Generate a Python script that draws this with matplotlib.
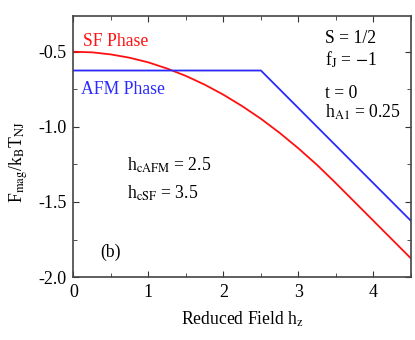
import matplotlib
matplotlib.use("Agg")
import matplotlib.pyplot as plt
from matplotlib.ticker import MultipleLocator

plt.rcParams['font.family'] = ['Liberation Serif', 'DejaVu Serif']
plt.rcParams['mathtext.fontset'] = 'stix'

# reduced field and free energies
h_sf = [0, 0.25, 0.5, 0.75, 1.0, 1.25, 1.5, 1.75, 2.0, 2.25, 2.5,
        2.75, 3.0, 3.25, 3.5, 3.75, 4.0, 4.25, 4.5]
f_sf = [-0.500, -0.504, -0.518, -0.540, -0.571, -0.612, -0.661, -0.719,
        -0.786, -0.862, -0.946, -1.040, -1.143, -1.254, -1.375, -1.500,
        -1.625, -1.750, -1.875]
h_afm = [0, 2.5, 4.5]
f_afm = [-0.625, -0.625, -1.625]

params = ["S = 1/2", "f$_{\\rm J}$ = $-$1", "t = 0", "h$_{\\rm A1}$ = 0.25"]
crit = ["h$_{\\rm cAFM}$ = 2.5", "h$_{\\rm cSF}$ = 3.5"]

fs = 12.7
fig = plt.figure(figsize=(4.15, 3.4), dpi=100)
ax = fig.add_axes([0.177, 0.185, 0.813, 0.768])

ax.plot(h_sf, f_sf, color='#ff1010', lw=1.3)
ax.plot(h_afm, f_afm, color='#2a2aff', lw=1.3)

ax.set_xlim(0, 4.5)
ax.set_ylim(-2.0, -0.262)
ax.xaxis.set_major_locator(MultipleLocator(1))
ax.xaxis.set_minor_locator(MultipleLocator(0.5))
ax.yaxis.set_major_locator(MultipleLocator(0.5))
ax.yaxis.set_minor_locator(MultipleLocator(0.25))
ax.tick_params(which='both', direction='in', top=True, right=True,
               labelsize=13, colors='#333333', labelcolor='black', pad=5)
ax.tick_params(which='major', length=4)
ax.tick_params(which='minor', length=3)
ax.set_yticks([-2.0, -1.5, -1.0, -0.5])
ax.set_yticklabels(['-2.0', '-1.5', '-1.0', '-0.5'])
for s in ax.spines.values():
    s.set_color('#444444')
    s.set_linewidth(1.2)

ax.set_xlabel("Reduced Field h$_{\\rm z}$", fontsize=fs, labelpad=6)
ax.set_ylabel("F$_{\\rm mag}$/k$_{\\rm B}$T$_{\\rm NJ}$", fontsize=fs)
ax.yaxis.set_label_coords(-0.13, 0.44)

ax.text(0.13, -0.462, "SF Phase", color='#ff1010', fontsize=fs, va='baseline')
ax.text(0.10, -0.782, "AFM Phase", color='#2a2aff', fontsize=fs, va='baseline')

ys = [-0.442, -0.589, -0.809, -0.936]
for t, y in zip(params, ys):
    ax.text(3.36, y, t, fontsize=fs, va='baseline')
for t, y in zip(crit, [-1.289, -1.476]):
    ax.text(0.72, y, t, fontsize=fs, va='baseline')
ax.text(0.355, -1.863, "(b)", fontsize=fs, va='baseline')

fig.savefig("out.png", dpi=100)
